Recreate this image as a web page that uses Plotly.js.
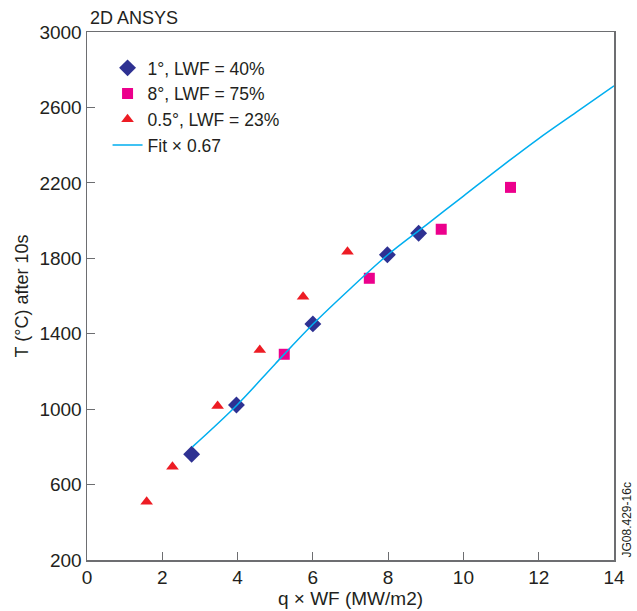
<!DOCTYPE html>
<html>
<head>
<meta charset="utf-8">
<script src="https://cdn.plot.ly/plotly-3.0.1.min.js"></script>
<style>html,body{margin:0;padding:0;background:#fff;}#chart{width:637px;height:611px;}</style>
</head>
<body>
<div id="chart"></div>
<script>
// Data
const diamondX = [2.78, 3.97, 6.00, 7.98, 8.81];
const diamondY = [761, 1022, 1452, 1819, 1933];

const squareX = [5.24, 7.50, 9.41, 11.25];
const squareY = [1291, 1694, 1954, 2176];

const triangleX = [1.585, 2.27, 3.47, 4.59, 5.74, 6.92];
const triangleY = [509, 695, 1017, 1314, 1596, 1835];

const fitX = [2.8, 4.0, 5.0, 6.0, 7.0, 8.0, 9.0, 10.0, 11.0, 12.0, 13.0, 14.0];
const fitY = [800, 1025, 1240, 1450, 1640, 1820, 1975, 2130, 2285, 2435, 2575, 2715];

const xTicks = [0, 2, 4, 6, 8, 10, 12, 14];
const yTicks = [200, 600, 1000, 1400, 1800, 2200, 2600, 3000];

const FONT = '"Liberation Sans", Arial, Helvetica, sans-serif';
const TXT = '#231f20';
const AX = '#6d6e71';

const traces = [
  {x: diamondX, y: diamondY, type: 'scatter', mode: 'markers', name: '1°, LWF = 40%',
   marker: {symbol: 'diamond', size: 13, color: '#2e3192'}},
  {x: squareX, y: squareY, type: 'scatter', mode: 'markers', name: '8°, LWF = 75%',
   marker: {symbol: 'square', size: 11, color: '#ec008c'}},
  {x: triangleX, y: triangleY, type: 'scatter', mode: 'markers', name: '0.5°, LWF = 23%',
   marker: {symbol: 'triangle-up', size: 11, color: '#ed1c24'}},
  {x: fitX, y: fitY, type: 'scatter', mode: 'lines', name: 'Fit × 0.67',
   line: {color: '#00aeef', width: 1.5, shape: 'spline'}}
];

const layout = {
  width: 637, height: 611,
  margin: {l: 87, r: 23, t: 32, b: 51},
  paper_bgcolor: '#fff', plot_bgcolor: '#fff',
  font: {family: FONT, size: 19, color: TXT},
  title: {text: '2D ANSYS', x: 90/637, xanchor: 'left', xref: 'container',
          y: 1 - 18/611, yanchor: 'middle', yref: 'container',
          font: {family: FONT, size: 18, color: TXT}},
  showlegend: true,
  legend: {x: 0.039, y: 0.966, xanchor: 'left', yanchor: 'top',
           bgcolor: 'rgba(0,0,0,0)', font: {family: FONT, size: 17.5, color: TXT},
           itemwidth: 30, tracegroupgap: 0},
  xaxis: {range: [0, 14], tickvals: xTicks, ticktext: xTicks.map(String),
          showgrid: false, zeroline: false, showline: true, linecolor: AX, linewidth: 1.5,
          mirror: true, ticks: 'inside', ticklen: 8, tickcolor: AX, tickwidth: 1,
          tickfont: {family: FONT, size: 19, color: TXT},
          title: {text: 'q × WF (MW/m2)', font: {family: FONT, size: 19, color: TXT}, standoff: 4},
          automargin: false},
  yaxis: {range: [200, 3000], tickvals: yTicks, ticktext: yTicks.map(String),
          showgrid: false, zeroline: false, showline: true, linecolor: AX, linewidth: 1.5,
          mirror: true, ticks: 'inside', ticklen: 8, tickcolor: AX, tickwidth: 1,
          tickfont: {family: FONT, size: 19, color: TXT},
          title: {text: 'T (°C) after 10s', font: {family: FONT, size: 18, color: TXT}, standoff: 6},
          automargin: false},
  annotations: [
    {text: 'JG08.429-16c', xref: 'paper', yref: 'paper', x: 1.0, y: 0.0,
     xanchor: 'left', yanchor: 'bottom', xshift: 3, yshift: 0, textangle: -90, showarrow: false,
     font: {family: FONT, size: 12, color: TXT}}
  ]
};

Plotly.newPlot('chart', traces, layout, {displayModeBar: false, staticPlot: true});
</script>
</body>
</html>
